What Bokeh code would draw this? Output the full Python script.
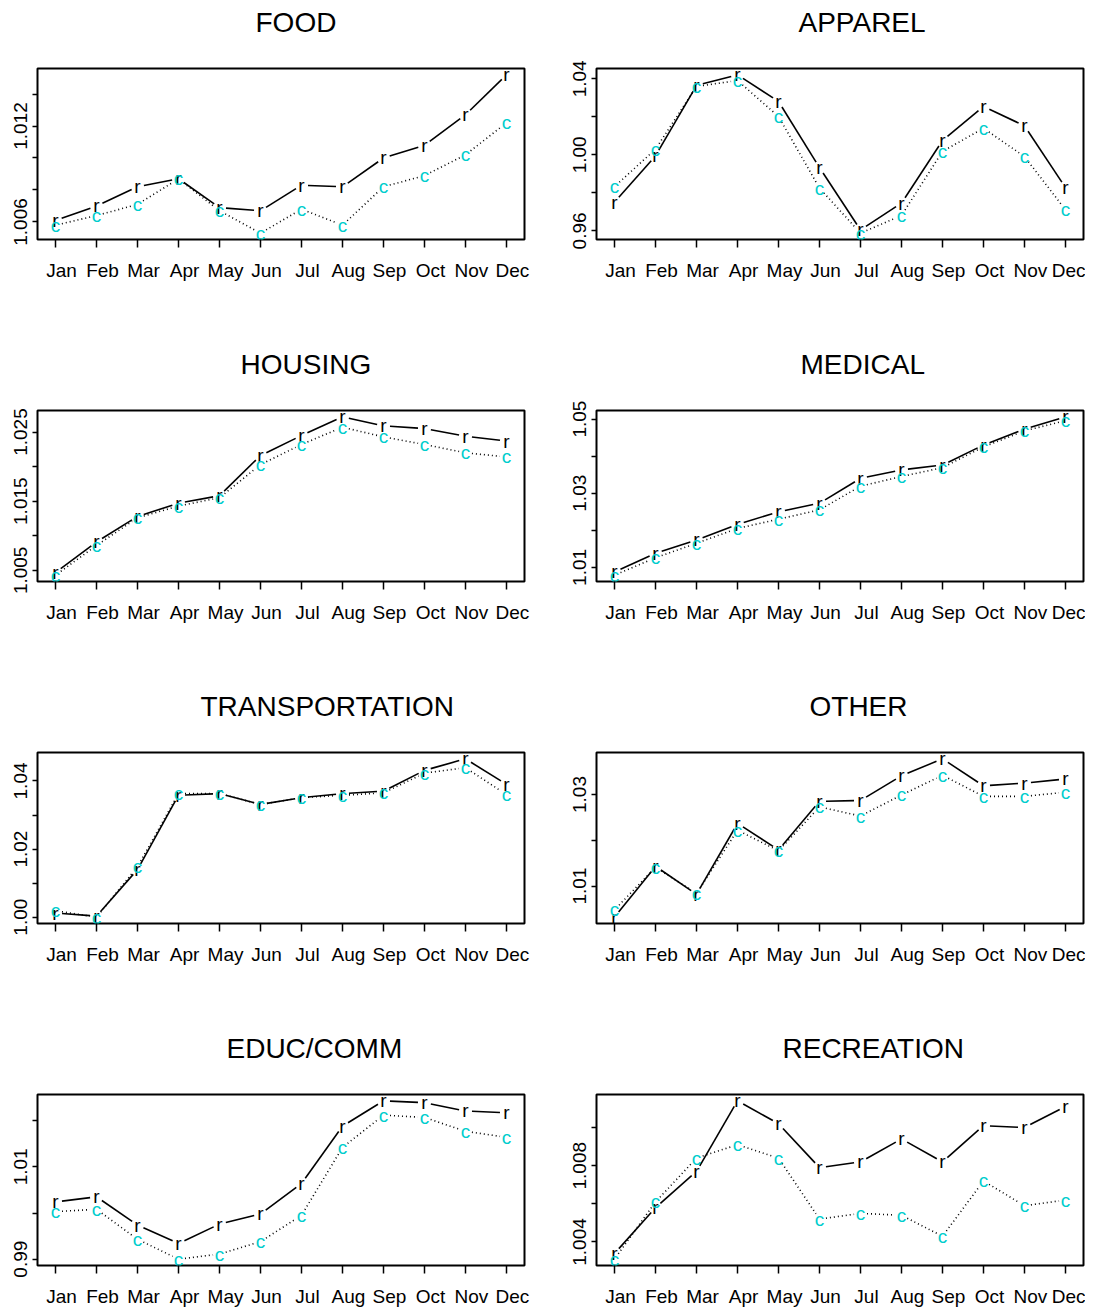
from bokeh.plotting import figure
from bokeh.layouts import column, row
from bokeh.models import FixedTicker, CustomJSTickFormatter, Range1d, Title
from bokeh.embed import file_html
from bokeh.resources import INLINE
from bokeh.core.properties import value

# ---------------- data ----------------
months = ["Jan", "Feb", "Mar", "Apr", "May", "Jun", "Jul", "Aug", "Sep", "Oct", "Nov", "Dec"]
month_num = list(range(1, 13))

titles = ["FOOD", "APPAREL", "HOUSING", "MEDICAL",
          "TRANSPORTATION", "OTHER", "EDUC/COMM", "RECREATION"]

food_r = [1.0061, 1.0070, 1.0082, 1.0087, 1.0069, 1.0067, 1.0083, 1.0082, 1.0100, 1.0108, 1.0127, 1.0152]
food_c = [1.0058, 1.0064, 1.0071, 1.0087, 1.0067, 1.0053, 1.0068, 1.0058, 1.0082, 1.0089, 1.0102, 1.0122]

apparel_r = [0.9751, 0.9995, 1.0365, 1.0421, 1.0281, 0.9933, 0.9605, 0.9746, 1.0075, 1.0254, 1.0153, 0.9828]
apparel_c = [0.9833, 1.0030, 1.0360, 1.0391, 1.0202, 0.9825, 0.9588, 0.9681, 1.0018, 1.0140, 0.9991, 0.9711]

housing_r = [1.0047, 1.0091, 1.0128, 1.0147, 1.0158, 1.0216, 1.0245, 1.0272, 1.0259, 1.0255, 1.0244, 1.0237]
housing_c = [1.0043, 1.0086, 1.0126, 1.0143, 1.0155, 1.0203, 1.0232, 1.0257, 1.0243, 1.0232, 1.0220, 1.0214]

medical_r = [1.0088, 1.0138, 1.0174, 1.0216, 1.0250, 1.0273, 1.0340, 1.0363, 1.0376, 1.0430, 1.0473, 1.0506]
medical_c = [1.0079, 1.0126, 1.0165, 1.0205, 1.0230, 1.0255, 1.0319, 1.0345, 1.0369, 1.0425, 1.0468, 1.0496]

transport_r = [1.0012, 1.0003, 1.0140, 1.0358, 1.0363, 1.0331, 1.0351, 1.0363, 1.0370, 1.0431, 1.0465, 1.0390]
transport_c = [1.0019, 1.0000, 1.0148, 1.0363, 1.0363, 1.0331, 1.0351, 1.0358, 1.0365, 1.0423, 1.0439, 1.0360]

other_r = [1.0032, 1.0143, 1.0082, 1.0237, 1.0179, 1.0285, 1.0287, 1.0341, 1.0378, 1.0319, 1.0325, 1.0334]
other_c = [1.0048, 1.0141, 1.0084, 1.0222, 1.0177, 1.0273, 1.0253, 1.0299, 1.0342, 1.0296, 1.0296, 1.0305]

educ_r = [1.0024, 1.0035, 0.9974, 0.9934, 0.9976, 0.9998, 1.0064, 1.0188, 1.0243, 1.0239, 1.0221, 1.0217]
educ_c = [1.0003, 1.0008, 0.9943, 0.9900, 0.9911, 0.9938, 0.9995, 1.0142, 1.0212, 1.0207, 1.0177, 1.0164]

recreation_r = [1.0034, 1.0058, 1.0077, 1.0114, 1.0102, 1.0079, 1.0082, 1.0094, 1.0082, 1.0101, 1.0100, 1.0111]
recreation_c = [1.0031, 1.0061, 1.0084, 1.0091, 1.0084, 1.0052, 1.0055, 1.0054, 1.0043, 1.0072, 1.0059, 1.0062]

# y tick values and their printed labels ("" = tick without label)
food_yticks = [1.006, 1.008, 1.010, 1.012, 1.014]
food_ylabels = ["1.006", "", "", "1.012", ""]
apparel_yticks = [0.96, 0.98, 1.00, 1.02, 1.04]
apparel_ylabels = ["0.96", "", "1.00", "", "1.04"]
housing_yticks = [1.005, 1.010, 1.015, 1.020, 1.025]
housing_ylabels = ["1.005", "", "1.015", "", "1.025"]
medical_yticks = [1.01, 1.02, 1.03, 1.04, 1.05]
medical_ylabels = ["1.01", "", "1.03", "", "1.05"]
transport_yticks = [1.00, 1.01, 1.02, 1.03, 1.04]
transport_ylabels = ["1.00", "", "1.02", "", "1.04"]
other_yticks = [1.01, 1.02, 1.03]
other_ylabels = ["1.01", "", "1.03"]
educ_yticks = [0.99, 1.00, 1.01, 1.02]
educ_ylabels = ["0.99", "", "1.01", ""]
recreation_yticks = [1.004, 1.006, 1.008, 1.010]
recreation_ylabels = ["1.004", "", "1.008", ""]

r_marker = "r"
c_marker = "c"

# ---------------- style ----------------
FONT = "Liberation Sans"
CYAN = "#00CDCD"
FRAME_W, FRAME_H = 487, 171
title_left_offsets = [218, 202, 203, 204, 163, 213, 189, 186]
title_gap_px = 28
label_shift_px = 6
gap_px = 6.5


def gapped_segments(xs, ys, xr, yr):
    """Split a polyline into segments that stop short of each point (R type='b')."""
    sx = FRAME_W / (xr[1] - xr[0])
    sy = FRAME_H / (yr[1] - yr[0])
    x0, y0, x1, y1 = [], [], [], []
    for i in range(len(xs) - 1):
        dx = (xs[i + 1] - xs[i]) * sx
        dy = (ys[i + 1] - ys[i]) * sy
        L = (dx * dx + dy * dy) ** 0.5
        if L <= 2 * gap_px:
            continue
        f = gap_px / L
        x0.append(xs[i] + f * (xs[i + 1] - xs[i]))
        y0.append(ys[i] + f * (ys[i + 1] - ys[i]))
        x1.append(xs[i + 1] - f * (xs[i + 1] - xs[i]))
        y1.append(ys[i + 1] - f * (ys[i + 1] - ys[i]))
    return x0, y0, x1, y1


def panel(title, r_vals, c_vals, yticks, ylabels, col, last_row, toff):
    xlo, xhi = min(month_num), max(month_num)
    xpad = 0.04 * (xhi - xlo)
    allv = r_vals + c_vals
    lo, hi = min(allv), max(allv)
    pad = 0.04 * (hi - lo)
    xr = (xlo - xpad, xhi + xpad)
    yr = (lo - pad, hi + pad)
    p = figure(frame_width=FRAME_W, frame_height=FRAME_H,
               output_backend="svg", toolbar_location=None, title_location=None,
               x_range=Range1d(*xr), y_range=Range1d(*yr),
               min_border_left=37, min_border_right=(35 if col == 0 else 2),
               min_border_top=68, min_border_bottom=(42 if last_row else 103),
               background_fill_color="white", border_fill_color="white")
    p.outline_line_color = "black"
    p.outline_line_width = 2
    p.xgrid.visible = False
    p.ygrid.visible = False

    # spacer between frame and title, then the title itself
    p.add_layout(Title(text=" ", text_font_size="1px", standoff=title_gap_px), "above")
    p.add_layout(Title(text=title, align="left", offset=toff, vertical_align="bottom",
                       standoff=0, text_font=FONT, text_font_size="28px",
                       text_font_style="normal", text_color="black"), "above")

    # x axis: tick marks at months (minor ticks), labels slightly shifted right
    shift = label_shift_px * (xr[1] - xr[0]) / FRAME_W
    xa = p.xaxis[0]
    xa.ticker = FixedTicker(ticks=[m + shift for m in month_num], minor_ticks=month_num)
    xa.formatter = CustomJSTickFormatter(args=dict(months=months),
                                         code="const i = Math.round(tick) - 1; return (i >= 0 && i < months.length) ? months[i] : '';")
    xa.axis_line_color = None
    xa.major_tick_line_color = None
    xa.major_tick_out = 8
    xa.major_tick_in = 0
    xa.minor_tick_line_color = "black"
    xa.minor_tick_line_width = 1.5
    xa.minor_tick_out = 8
    xa.minor_tick_in = 0
    xa.major_label_text_font = FONT
    xa.major_label_text_font_size = "19px"
    xa.major_label_text_color = "black"
    xa.major_label_standoff = 12

    ya = p.yaxis[0]
    ya.ticker = FixedTicker(ticks=yticks)
    ya.formatter = CustomJSTickFormatter(args=dict(t=yticks, l=ylabels),
                                         code="for (let i = 0; i < t.length; i++) { if (Math.abs(tick - t[i]) < 1e-9) return l[i]; } return '';")
    ya.axis_line_color = None
    ya.major_tick_line_color = "black"
    ya.major_tick_line_width = 1.5
    ya.major_tick_out = 5
    ya.major_tick_in = 0
    ya.minor_tick_line_color = None
    ya.major_label_orientation = "vertical"
    ya.major_label_text_font = FONT
    ya.major_label_text_font_size = "19px"
    ya.major_label_text_color = "black"
    ya.major_label_standoff = 5

    x0, y0, x1, y1 = gapped_segments(month_num, r_vals, xr, yr)
    p.segment(x0, y0, x1, y1, line_color="black", line_width=1.6)
    p.text(month_num, r_vals, text=[r_marker] * len(month_num), text_color="black",
           text_font=value(FONT), text_font_size="19px",
           text_align="center", text_baseline="middle")
    x0, y0, x1, y1 = gapped_segments(month_num, c_vals, xr, yr)
    p.segment(x0, y0, x1, y1, line_color="black", line_width=1.6, line_dash="1 3")
    p.text(month_num, c_vals, text=[c_marker] * len(month_num), text_color=CYAN,
           text_font=value(FONT), text_font_size="19px",
           text_align="center", text_baseline="middle")
    return p


series = [
    (food_r, food_c, food_yticks, food_ylabels),
    (apparel_r, apparel_c, apparel_yticks, apparel_ylabels),
    (housing_r, housing_c, housing_yticks, housing_ylabels),
    (medical_r, medical_c, medical_yticks, medical_ylabels),
    (transport_r, transport_c, transport_yticks, transport_ylabels),
    (other_r, other_c, other_yticks, other_ylabels),
    (educ_r, educ_c, educ_yticks, educ_ylabels),
    (recreation_r, recreation_c, recreation_yticks, recreation_ylabels),
]

plots = []
for i, (rv, cv, yt, yl) in enumerate(series):
    plots.append(panel(titles[i], rv, cv, yt, yl, i % 2, i >= 6, title_left_offsets[i]))

layout = column(*[row(plots[2 * k], plots[2 * k + 1]) for k in range(4)])

open("out.html", "w").write(file_html(layout, INLINE))
